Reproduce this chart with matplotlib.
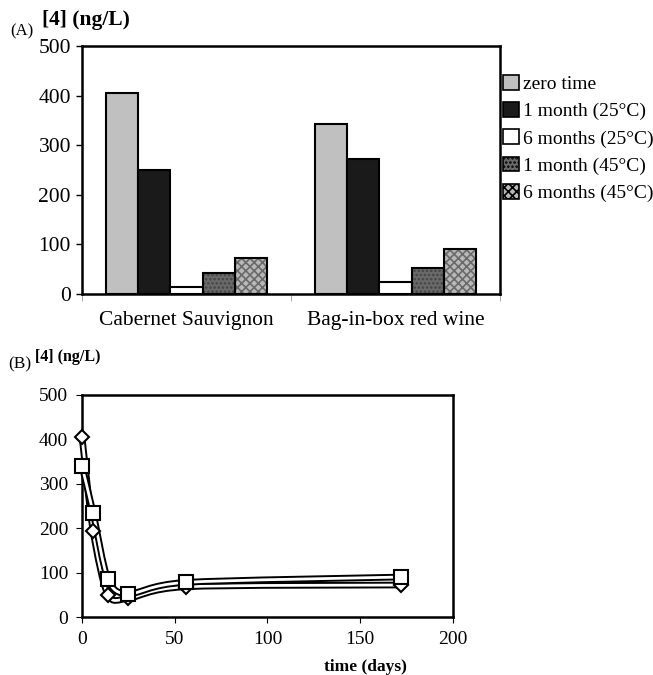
import numpy as np
import matplotlib
matplotlib.use("Agg")
import matplotlib.pyplot as plt
from matplotlib.path import Path
from matplotlib.patches import PathPatch, Patch
import matplotlib.patheffects as pe

plt.rcParams['font.family'] = ['Liberation Serif', 'DejaVu Serif']
plt.rcParams['hatch.linewidth'] = 1.2

# ---- Data panel A ----
wines = ["Cabernet Sauvignon", "Bag-in-box red wine"]
conditions = ["zero time", "1 month (25°C)", "6 months (25°C)",
              "1 month (45°C)", "6 months (45°C)"]
zero_time = [406, 342]
month1_25 = [250, 272]
months6_25 = [15, 25]
month1_45 = [43, 53]
months6_45 = [73, 90]

# ---- Data panel B ----
days = [0, 6, 14, 25, 56, 172]
cabernet_conc = [406, 193, 50, 42, 68, 72]
bagbox_conc = [340, 235, 85, 52, 78, 90]

W, H = 653, 675
fig = plt.figure(figsize=(W / 100, H / 100), dpi=100)

def axrect(l, t, r, b):
    return [l / W, 1 - b / H, (r - l) / W, (b - t) / H]

# ================= Panel A =================
axA = fig.add_axes(axrect(82, 46, 500, 294))
series = [zero_time, month1_25, months6_25, month1_45, months6_45]
faces = ["#c0c0c0", "#1a1a1a", "#ffffff", "#6a6a6a", "#b8b8b8"]
hatches = [None, None, None, "....", "xxxx"]
hatch_cols = [None, None, None, "#444444", "#6a6a6a"]
bw = 0.154
x = np.arange(len(wines))
for i, (vals, fc, h, hc) in enumerate(zip(series, faces, hatches, hatch_cols)):
    pos = x + (i - 2) * bw
    if h is not None:
        axA.bar(pos, vals, width=bw, color=fc, hatch=h, edgecolor=hc, linewidth=0, zorder=2)
        axA.bar(pos, vals, width=bw, fill=False, edgecolor="black", linewidth=1.5, zorder=3)
    else:
        axA.bar(pos, vals, width=bw, color=fc, edgecolor="black", linewidth=1.5, zorder=3)

axA.set_xlim(-0.5, 1.5)
axA.set_ylim(0, 500)
axA.set_yticks([0, 100, 200, 300, 400, 500])
axA.tick_params(axis='y', labelsize=15.5, length=4, width=1, direction='out', pad=4)
axA.set_xticks(x)
axA.set_xticklabels(wines, fontsize=15.5)
axA.tick_params(axis='x', length=0, pad=12)
axA.set_xticks([-0.5, 0.5, 1.5], minor=True)
axA.tick_params(axis='x', which='minor', length=5, width=0.6, color='#999999')
for s in axA.spines.values():
    s.set_linewidth(1.8)

handles = [Patch(facecolor=fc, edgecolor="black", hatch=h, linewidth=1.2)
           for fc, h in zip(faces, hatches)]
fig.legend(handles, conditions, loc="upper left", bbox_to_anchor=(503 / W, 1 - 75 / H),
           frameon=False, fontsize=14, handlelength=0.8, handleheight=0.8,
           handletextpad=0.25, labelspacing=0.46, borderpad=0, borderaxespad=0)

fig.text(42 / W, 1 - 20 / H, "[4] (ng/L)", fontsize=15.5, fontweight='bold', va='center', ha='left')
fig.text(10 / W, 1 - 31 / H, "(A)", fontsize=12, va='center', ha='left')

# ================= Panel B =================
axB = fig.add_axes(axrect(82, 395, 453, 617))
axB.set_xlim(0, 200)
axB.set_ylim(0, 500)

def smooth_path(xs, ys, k=1/6.0):
    P = np.column_stack([xs, ys]).astype(float)
    n = len(P)
    T = np.zeros_like(P)
    for i in range(n):
        a = P[max(i - 1, 0)]
        b = P[min(i + 1, n - 1)]
        T[i] = (b - a)
    verts = [P[0]]
    codes = [Path.MOVETO]
    for i in range(n - 1):
        c1 = P[i] + T[i] * k
        c2 = P[i + 1] - T[i + 1] * k
        verts += [c1, c2, P[i + 1]]
        codes += [Path.CURVE4] * 3
    return Path(verts, codes)

for xs, ys in [(days, cabernet_conc), (days, bagbox_conc)]:
    patch = PathPatch(smooth_path(xs, ys, k=0.14), fill=False, edgecolor='white', linewidth=2.0,
                      transform=axB.transData, zorder=3, clip_on=False,
                      path_effects=[pe.Stroke(linewidth=4.8, foreground='black'), pe.Normal()])
    axB.add_patch(patch)

axB.plot(days, cabernet_conc, linestyle='none', marker='D', markersize=7.5,
         markerfacecolor='white', markeredgecolor='black', markeredgewidth=1.5, zorder=4,
         clip_on=False)
axB.plot(days, bagbox_conc, linestyle='none', marker='s', markersize=10.5,
         markerfacecolor='white', markeredgecolor='black', markeredgewidth=1.5, zorder=5,
         clip_on=False)

axB.set_xticks([0, 50, 100, 150, 200])
axB.set_yticks([0, 100, 200, 300, 400, 500])
axB.tick_params(labelsize=14, length=4, width=0.8, direction='out', pad=6)
for s in axB.spines.values():
    s.set_linewidth(1.8)

fig.text(365 / W, 1 - 667 / H, "time (days)", fontsize=12.5, fontweight='bold', ha='center', va='center')
fig.text(35 / W, 1 - 357 / H, "[4] (ng/L)", fontsize=11.5, fontweight='bold', va='center', ha='left')
fig.text(8 / W, 1 - 364 / H, "(B)", fontsize=12.5, va='center', ha='left')

fig.savefig("out.png", dpi=100)
